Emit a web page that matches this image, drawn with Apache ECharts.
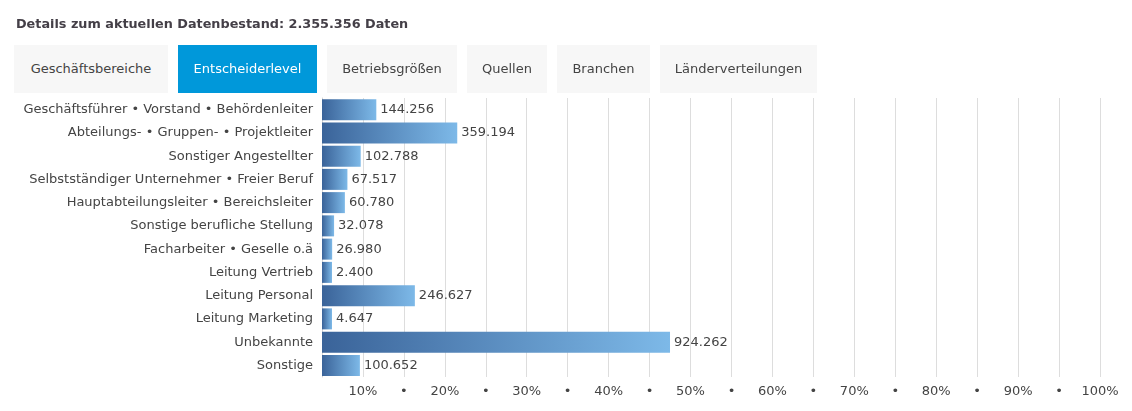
<!DOCTYPE html>
<html>
<head>
<meta charset="utf-8">
<script src="https://cdn.jsdelivr.net/npm/echarts@6/dist/echarts.min.js"></script>
<style>
  html, body { margin: 0; padding: 0; background: #fff; }
  #wrap { position: relative; width: 1132px; height: 411px; overflow: hidden; font-family: "DejaVu Sans", Verdana, sans-serif; }
  #chart { position: absolute; left: 0; top: 0; width: 1132px; height: 411px; }
  #title { position: absolute; left: 16px; top: 16px; font-size: 12.8px; font-weight: bold; color: #443f47; white-space: nowrap; }
  .tab { position: absolute; top: 45px; height: 48px; line-height: 48px; text-align: center; font-size: 13px; color: #444; background: #f7f7f7; white-space: nowrap; }
  .tab.active { background: #0098da; color: #fff; }
</style>
</head>
<body>
<div id="wrap">
  <div id="chart"></div>
  <div id="title"></div>
  <div id="tabs"></div>
</div>
<script>
const titleText = "Details zum aktuellen Datenbestand: 2.355.356 Daten";
const tabLabels = ["Geschäftsbereiche", "Entscheiderlevel", "Betriebsgrößen", "Quellen", "Branchen", "Länderverteilungen"];
const activeTab = 1;
const categories = [
  "Geschäftsführer • Vorstand • Behördenleiter",
  "Abteilungs- • Gruppen- • Projektleiter",
  "Sonstiger Angestellter",
  "Selbstständiger Unternehmer • Freier Beruf",
  "Hauptabteilungsleiter • Bereichsleiter",
  "Sonstige berufliche Stellung",
  "Facharbeiter • Geselle o.ä",
  "Leitung Vertrieb",
  "Leitung Personal",
  "Leitung Marketing",
  "Unbekannte",
  "Sonstige"
];
const values = [144256, 359194, 102788, 67517, 60780, 32078, 26980, 2400, 246627, 4647, 924262, 100652];
const tickLabels = ["", "10%", "•", "20%", "•", "30%", "•", "40%", "•", "50%", "•", "60%", "•", "70%", "•", "80%", "•", "90%", "•", "100%"];

// layout (not data)
const tabPos = [[14, 154], [178, 139], [327, 130], [467, 80], [557, 93], [660, 157]];
const axisInterval = 108750;

document.getElementById('title').textContent = titleText;
const tabsEl = document.getElementById('tabs');
tabLabels.forEach((t, i) => {
  const d = document.createElement('div');
  d.className = 'tab' + (i === activeTab ? ' active' : '');
  d.style.left = tabPos[i][0] + 'px';
  d.style.width = tabPos[i][1] + 'px';
  d.textContent = t;
  tabsEl.appendChild(d);
});

function fmt(v) {
  return String(v).replace(/\B(?=(\d{3})+(?!\d))/g, '.');
}

const chart = echarts.init(document.getElementById('chart'), null, { renderer: 'canvas' });
const FONT = '"DejaVu Sans", Verdana, sans-serif';
chart.setOption({
  animation: false,
  grid: { left: 322, right: 32, top: 98, bottom: 34, containLabel: false },
  xAxis: {
    type: 'value',
    min: 0,
    max: axisInterval * (tickLabels.length - 1),
    interval: axisInterval,
    axisLine: { show: false },
    axisTick: { show: false },
    splitLine: { show: true, lineStyle: { color: '#dddddd', width: 1 } },
    axisLabel: {
      margin: 8,
      color: '#444',
      fontFamily: FONT,
      fontSize: 13,
      formatter: function (v) { return tickLabels[Math.round(v / axisInterval)] || ''; }
    }
  },
  yAxis: {
    type: 'category',
    data: categories,
    inverse: true,
    axisLine: { show: true, lineStyle: { color: '#d6d6d6', width: 1 } },
    axisTick: { show: false },
    axisLabel: { margin: 9, color: '#444', fontFamily: FONT, fontSize: 13 }
  },
  series: [{
    type: 'bar',
    data: values,
    barWidth: 21,
    barMinHeight: 10,
    itemStyle: {
      color: new echarts.graphic.LinearGradient(0, 0, 1, 0, [
        { offset: 0, color: '#3a6399' },
        { offset: 1, color: '#7db9e8' }
      ])
    },
    label: {
      show: true,
      position: 'right',
      distance: 4,
      color: '#444',
      fontFamily: FONT,
      fontSize: 13,
      formatter: function (p) { return fmt(p.value); }
    }
  }]
});
</script>
</body>
</html>
